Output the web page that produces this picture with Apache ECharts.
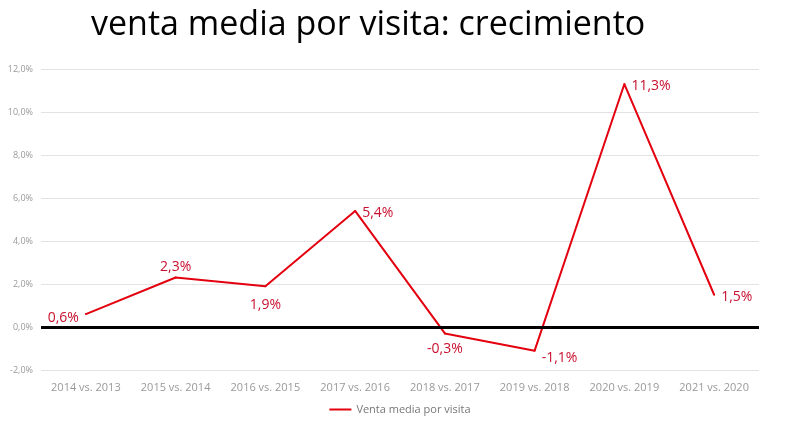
<!DOCTYPE html>
<html><head><meta charset="utf-8">
<script src="https://cdn.jsdelivr.net/npm/echarts@6/dist/echarts.min.js"></script>
<style>html,body{margin:0;padding:0;background:#fff}#c{width:800px;height:430px}</style>
</head><body><div id="c"></div>
<script>
const categories = ['2014 vs. 2013','2015 vs. 2014','2016 vs. 2015','2017 vs. 2016','2018 vs. 2017','2019 vs. 2018','2020 vs. 2019','2021 vs. 2020'];
const values = [0.6, 2.3, 1.9, 5.4, -0.3, -1.1, 11.3, 1.5];
const labelPositions = ['left','top','bottom','right','bottom','right','right','right'];
const labelShiftY = [4, 3, 5, 2, 2, 7, 2, 2];
const seriesName = 'Venta media por visita';
const titleText = 'venta media por visita: crecimiento';

const fmt = v => v.toFixed(1).replace('.', ',') + '%';
const chart = echarts.init(document.getElementById('c'));
chart.setOption({
  animation: false,
  textStyle: {fontFamily: 'Open Sans'},
  title: {text: titleText, left: 86, top: 3,
    textStyle: {fontFamily: 'Open Sans', fontSize: 34, fontWeight: 'normal', color: '#000'}},
  grid: {left: 41, right: 41, top: 69, bottom: 60},
  legend: {bottom: 10, left: 'center', itemWidth: 22, itemHeight: 2, itemGap: 4,
    icon: 'rect',
    textStyle: {color: '#777', fontSize: 11, fontFamily: 'Open Sans'}},
  xAxis: {type: 'category', data: categories, boundaryGap: true,
    axisLine: {show: false}, axisTick: {show: false},
    axisLabel: {color: '#999', fontSize: 11, margin: 12, interval: 0}},
  yAxis: {type: 'value', min: -2, max: 12, interval: 2,
    axisLine: {show: false}, axisTick: {show: false},
    axisLabel: {color: '#999', fontSize: 9, formatter: fmt, margin: 8},
    splitLine: {lineStyle: {color: '#e3e3e3', width: 1}}},
  series: [{
    name: seriesName, type: 'line',
    data: values.map((v, i) => ({value: v, label: {position: labelPositions[i]}})),
    symbol: 'circle', symbolSize: 2, showSymbol: true,
    itemStyle: {color: '#e3000f'},
    lineStyle: {width: 2, color: '#e3000f'},
    label: {show: true, color: '#c8102e', fontSize: 14, formatter: p => fmt(p.value), distance: 6},
    labelLayout: p => ({dy: labelShiftY[p.dataIndex], hideOverlap: false}),
    markLine: {silent: true, symbol: 'none', label: {show: false},
      lineStyle: {color: '#000', width: 3, type: 'solid'},
      data: [{yAxis: 0}]}
  }]
});
</script></body></html>
